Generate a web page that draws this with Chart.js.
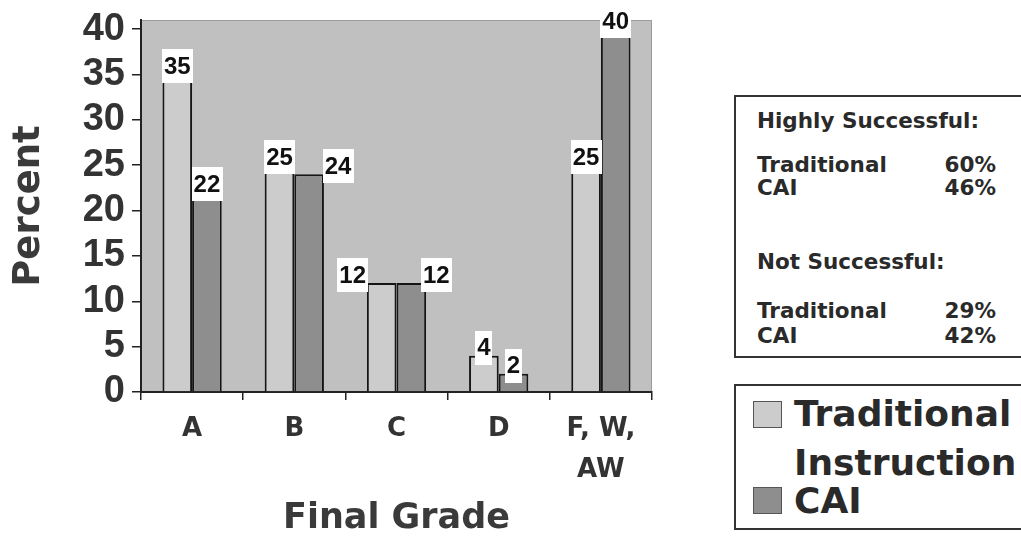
<!DOCTYPE html>
<html>
<head>
<meta charset="utf-8">
<script src="https://cdn.jsdelivr.net/npm/chart.js@4.4.1/dist/chart.umd.min.js"></script>
<style>
  html, body { margin: 0; padding: 0; background: #ffffff; }
  #wrap { position: relative; width: 1021px; height: 540px; overflow: hidden; }
  #chartBox { position: absolute; left: 0; top: 0; width: 700px; height: 540px; }
  .panel { position: absolute; border: 2px solid #333; background: #fff; box-sizing: border-box;
           font-family: "DejaVu Sans", sans-serif; font-weight: bold; color: #2a2a2a; }
  #stats { left: 734px; top: 95px; width: 300px; height: 263px; font-size: 21.5px; }
  #stats .t { position: absolute; left: 21px; white-space: nowrap; }
  #stats .v { position: absolute; left: 196px; white-space: nowrap; text-align: right; width: 64px; }
  #legend { left: 734px; top: 384px; width: 300px; height: 146px; font-size: 36px; }
  #legend .sw { position: absolute; left: 17px; width: 29px; height: 27px; border: 1px solid #555; box-sizing: border-box; }
  #legend .lt { position: absolute; left: 58px; white-space: nowrap; line-height: 1; }
</style>
</head>
<body>
<div id="wrap">
  <div id="chartBox"><canvas id="c" width="700" height="540"></canvas></div>
  <div id="stats" class="panel"></div>
  <div id="legend" class="panel"></div>
</div>
<script>
// ---- data ----
const categories = ['A', 'B', 'C', 'D', ['F, W,', 'AW']];
const traditional = [35, 25, 12, 4, 25];
const cai = [22, 24, 12, 2, 40];
const seriesNames = ['Traditional Instruction', 'CAI'];
const yTickValues = [0, 5, 10, 15, 20, 25, 30, 35, 40];
const statGroups = ['Highly Successful:', 'Not Successful:'];
const statRowLabels = ['Traditional', 'CAI'];
const highlySuccessful = ['60%', '46%'];
const notSuccessful = ['29%', '42%'];

// ---- styles ----
const tradColor = '#cccccc';
const caiColor = '#8e8e8e';
const plotBg = '#c0c0c0';
const labelShift = [[0, 0, -29, 0, 0], [0, 29, 25, 0, 0]];

// ---- side panels (real text) ----
(function () {
  const s = document.getElementById('stats');
  const rows = [
    { t: statGroups[0], y: 11 },
    { t: statRowLabels[0], v: highlySuccessful[0], y: 55 },
    { t: statRowLabels[1], v: highlySuccessful[1], y: 78 },
    { t: statGroups[1], y: 152 },
    { t: statRowLabels[0], v: notSuccessful[0], y: 201 },
    { t: statRowLabels[1], v: notSuccessful[1], y: 226 }
  ];
  rows.forEach(r => {
    const d = document.createElement('div'); d.className = 't'; d.style.top = r.y + 'px'; d.textContent = r.t; s.appendChild(d);
    if (r.v) { const v = document.createElement('div'); v.className = 'v'; v.style.top = r.y + 'px'; v.textContent = r.v; s.appendChild(v); }
  });
  const l = document.getElementById('legend');
  const sw1 = document.createElement('div'); sw1.className = 'sw'; sw1.style.top = '15px'; sw1.style.background = tradColor; l.appendChild(sw1);
  const sw2 = document.createElement('div'); sw2.className = 'sw'; sw2.style.top = '101px'; sw2.style.background = caiColor; l.appendChild(sw2);
  const parts = seriesNames[0].split(' ');
  const t1 = document.createElement('div'); t1.className = 'lt'; t1.style.top = '10px'; t1.textContent = parts[0]; l.appendChild(t1);
  const t2 = document.createElement('div'); t2.className = 'lt'; t2.style.top = '59px'; t2.textContent = parts[1]; l.appendChild(t2);
  const t3 = document.createElement('div'); t3.className = 'lt'; t3.style.top = '97px'; t3.textContent = seriesNames[1]; l.appendChild(t3);
})();

// ---- plugins ----
const plotBackground = {
  id: 'plotBackground',
  beforeDraw(chart) {
    const { ctx, chartArea: a } = chart;
    ctx.save();
    ctx.fillStyle = plotBg;
    ctx.fillRect(a.left, a.top, a.right - a.left, a.bottom - a.top);
    ctx.strokeStyle = '#9a9a9a';
    ctx.lineWidth = 1;
    ctx.beginPath();
    ctx.moveTo(a.left, a.top + 0.5); ctx.lineTo(a.right - 0.5, a.top + 0.5); ctx.lineTo(a.right - 0.5, a.bottom);
    ctx.stroke();
    ctx.restore();
  }
};

const valueBoxes = {
  id: 'valueBoxes',
  afterDatasetsDraw(chart) {
    const ctx = chart.ctx;
    ctx.save();
    ctx.font = 'bold 24px "Liberation Sans", Arial, sans-serif';
    ctx.textAlign = 'center';
    ctx.textBaseline = 'middle';
    chart.data.datasets.forEach((ds, di) => {
      chart.getDatasetMeta(di).data.forEach((bar, i) => {
        const txt = String(ds.data[i]);
        const w = ctx.measureText(txt).width + 4;
        const h = 34;
        const cx = bar.x + labelShift[di][i];
        const cy = bar.y - 8;
        ctx.fillStyle = '#ffffff';
        ctx.fillRect(Math.round(cx - w / 2), Math.round(cy - h / 2), Math.round(w), h);
        ctx.fillStyle = '#111111';
        ctx.fillText(txt, cx, cy + 1);
      });
    });
    ctx.restore();
  }
};

new Chart(document.getElementById('c'), {
  type: 'bar',
  data: {
    labels: categories,
    datasets: [
      { label: seriesNames[0], data: traditional, backgroundColor: tradColor, borderColor: '#151515', borderWidth: 2, borderSkipped: 'bottom' },
      { label: seriesNames[1], data: cai, backgroundColor: caiColor, borderColor: '#151515', borderWidth: 2, borderSkipped: 'bottom' }
    ]
  },
  options: {
    responsive: false,
    animation: false,
    events: [],
    categoryPercentage: 0.58,
    barPercentage: 1.0,
    layout: { padding: { left: 0, right: 48, top: 20, bottom: 0 } },
    plugins: { legend: { display: false }, tooltip: { enabled: false } },
    scales: {
      x: {
        grid: { offset: true, drawOnChartArea: false, drawTicks: true, tickLength: 8, color: '#222', lineWidth: 1.5 },
        border: { display: true, color: '#222', width: 2 },
        ticks: { color: '#333', padding: 8, font: { family: '"DejaVu Sans", sans-serif', weight: 'bold', size: 26, lineHeight: 1.6 } },
        title: { display: true, text: 'Final Grade', color: '#3a3a3a', padding: { top: 0, bottom: 0 },
                 font: { family: '"DejaVu Sans", sans-serif', weight: 'bold', size: 35, lineHeight: 1.2 } },
        afterFit(s) { s.height = 148; s.paddingLeft = 0; s.paddingRight = 0; }
      },
      y: {
        min: 0, max: 41,
        grid: { drawOnChartArea: false, drawTicks: true, tickLength: 9, color: '#222', lineWidth: 1.5 },
        border: { display: true, color: '#222', width: 2 },
        afterBuildTicks(s) { s.ticks = yTickValues.map(v => ({ value: v })); },
        ticks: { autoSkip: false, color: '#333', padding: 7, font: { family: '"Liberation Sans", Arial, sans-serif', weight: 'bold', size: 38, lineHeight: 1 } },
        title: { display: true, text: 'Percent', color: '#3a3a3a', padding: { top: 7, bottom: 0 },
                 font: { family: '"DejaVu Sans", sans-serif', weight: 'bold', size: 37, lineHeight: 1.2 } },
        afterFit(s) { s.width = 141; s.paddingTop = 0; s.paddingBottom = 0; }
      }
    }
  },
  plugins: [plotBackground, valueBoxes]
});
</script>
</body>
</html>
